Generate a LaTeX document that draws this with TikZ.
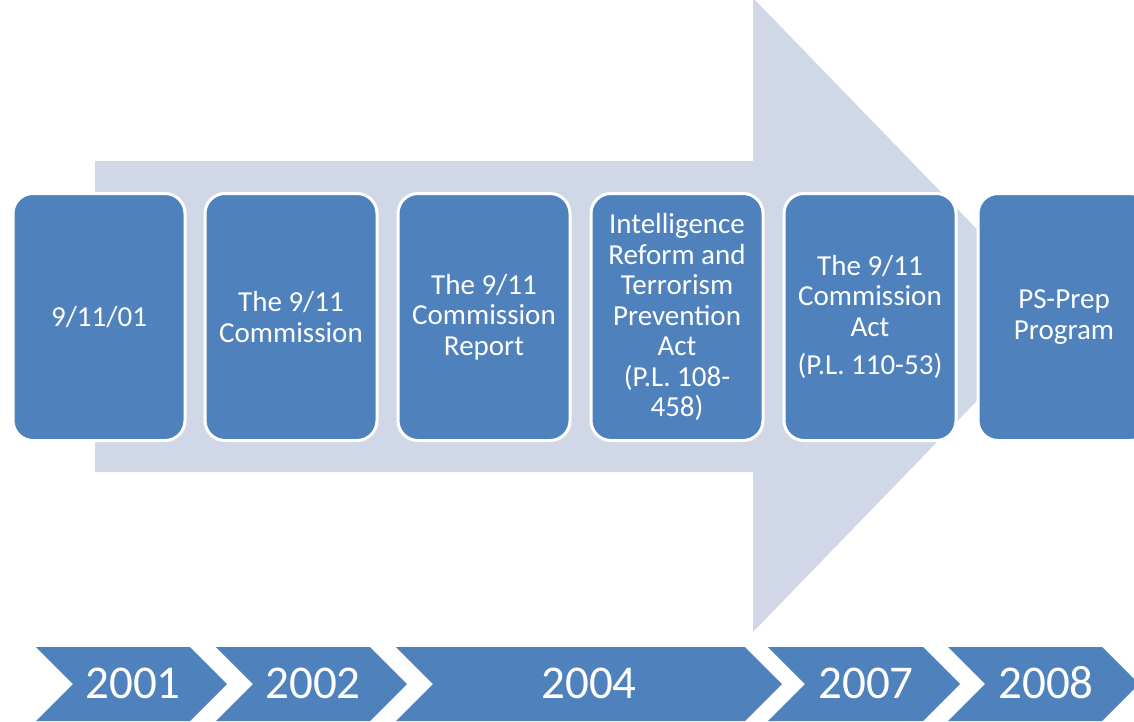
\documentclass[tikz,border=0pt]{standalone}
\usepackage{fontspec}
\setmainfont{Carlito}
\definecolor{boxblue}{RGB}{79,129,189}
\definecolor{arrowlight}{RGB}{208,216,232}
\tikzset{
  event/.style={draw=white, line width=3pt, fill=boxblue, rounded corners=20pt,
    minimum width=172pt, minimum height=247pt, inner sep=2pt,
    text=white, align=center, font=\fontsize{29}{30.5}\selectfont},
  yearlabel/.style={text=white, inner sep=0pt, font=\fontsize{47}{50}\selectfont},
  chevron/.style={fill=boxblue}
}
\begin{document}
\begin{tikzpicture}[x=1pt,y=-1pt]
  \useasboundingbox (0,0) rectangle (1134,721);
  \clip (0,0) rectangle (1134,721);
  \fill[white] (0,0) rectangle (1134,721);

  % pale block arrow behind the events
  \fill[arrowlight] (95,161) -- (753,161) -- (753,-2) -- (1060,315)
    -- (753,632) -- (753,472) -- (95,472) -- cycle;

  % event boxes
  \node[event] (e1) at (99,317)   {9/11/01};
  \node[event] (e2) at (291,317)  {The 9/11\\Commission};
  \node[event] (e3) at (484,317)  {The 9/11\\Commission\\Report};
  \node[event] (e4) at (677,317)  {Intelligence\\Reform and\\Terrorism\\Prevention\\Act\\(P.L. 108-\\458)};
  \node[event] (e5) at (870,317)  {The 9/11\\Commission\\Act\\[8pt](P.L. 110-53)};
  \node[event] (e6) at (1064,317) {PS-Prep\\Program};

  % year chevrons
  \fill[chevron] (36,647) -- (190,647) -- (227,684) -- (190,721) -- (36,721) -- (73,684) -- cycle;
  \node[yearlabel] (y1) at (133,683) {2001};
  \fill[chevron] (216,647) -- (370,647) -- (407,684) -- (370,721) -- (216,721) -- (253,684) -- cycle;
  \node[yearlabel] (y2) at (313,683) {2002};
  \fill[chevron] (396,647) -- (745,647) -- (782,684) -- (745,721) -- (396,721) -- (433,684) -- cycle;
  \node[yearlabel] (y3) at (589,683) {2004};
  \fill[chevron] (768,647) -- (923,647) -- (960,684) -- (923,721) -- (768,721) -- (805,684) -- cycle;
  \node[yearlabel] (y4) at (866,683) {2007};
  \fill[chevron] (948,647) -- (1102,647) -- (1139,684) -- (1102,721) -- (948,721) -- (985,684) -- cycle;
  \node[yearlabel] (y5) at (1046,683) {2008};
\end{tikzpicture}
\end{document}
